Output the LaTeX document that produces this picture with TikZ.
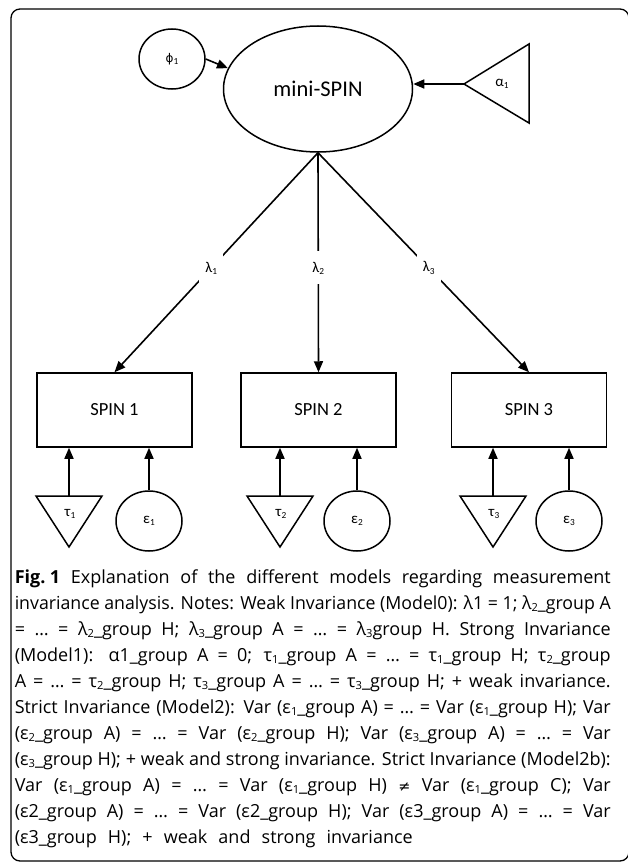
\documentclass[tikz,border=0pt]{standalone}
\usepackage{graphicx}
\usepackage{fontspec}
\setmainfont{Carlito}
\newfontfamily\capfont{Open Sans}
\newfontfamily\djv{DejaVu Sans}
\usetikzlibrary{shapes.geometric,arrows.meta}
\newcommand\sbs[1]{\raisebox{-0.3ex}{\scalebox{0.62}{#1}}}
\newlength\jw
\newcommand\jline[1]{\settowidth\jw{#1}\ifdim\jw>596pt\resizebox{596pt}{\height}{#1}\else\makebox[596pt][s]{#1}\fi}
\begin{document}
\begin{tikzpicture}[x=1pt,y=-1pt,line width=1.5pt,
  arr/.style={-{Triangle[length=11pt,width=9pt]},line width=1.6pt},
  obs/.style={draw,rectangle,minimum width=155pt,minimum height=74pt,inner sep=0pt,font=\fontsize{18.5}{20}\selectfont},
  circ/.style={draw,ellipse,minimum width=66pt,minimum height=60pt,inner sep=0pt,font=\fontsize{15}{16}\selectfont},
  glab/.style={inner sep=0pt,font=\fontsize{15}{16}\selectfont},
  lam/.style={fill=white,inner sep=0pt,minimum width=24pt,minimum height=33pt,font=\fontsize{15}{16}\selectfont},
  capline/.style={anchor=base west,inner sep=0pt,font=\capfont\fontsize{18}{26}\selectfont}]
\useasboundingbox (0,0) rectangle (627,864);
\fill[white] (0,0) rectangle (627,864);
\draw[line width=1.3pt,rounded corners=9pt] (11,9) rectangle (629,861);
% latent
\node[draw,ellipse,minimum width=189pt,minimum height=126pt,inner sep=0pt,font=\fontsize{22.5}{24}\selectfont] (ms) at (318,89) {mini-SPIN};
\node[circ] (phi) at (172,59) {{\djv\scalebox{0.8}{ϕ}}\sbs{1}};
\draw[arr] (phi.east) -- (ms.167);
\draw (464,84) -- (529,44) -- (529,123) -- cycle;
\coordinate (atip) at (464,84);
\node[glab] (alab) at (502,84) {α\sbs{1}};
\draw[arr] (atip) -- (atip -| ms.east);
% observed
\node[obs] (s1) at (114.5,410) {SPIN 1};
\node[obs] (s2) at (318.5,410) {SPIN 2};
\node[obs] (s3) at (529,410) {SPIN 3};
\draw[arr] (ms.south) -- node[lam,pos=0.525] (l1) {λ\sbs{1}} (s1.north);
\draw[arr] (ms.south) -- node[lam,pos=0.525] (l2) {λ\sbs{2}} (s2.north);
\draw[arr] (ms.south) -- node[lam,pos=0.525] (l3) {λ\sbs{3}} (s3.north);
% intercepts (triangles)
\draw (36,496) -- (102,496) -- (69,547) -- cycle;
\coordinate (t1) at (69,496);
\node[glab] (tl1) at (70,514) {τ\sbs{1}};
\draw (247,496) -- (313,496) -- (280,547) -- cycle;
\coordinate (t2) at (280,496);
\node[glab] (tl2) at (281,514) {τ\sbs{2}};
\draw (460,496) -- (526,496) -- (493,547) -- cycle;
\coordinate (t3) at (493,496);
\node[glab] (tl3) at (494,514) {τ\sbs{3}};
% residuals
\node[circ] (e1) at (149,521) {ε\sbs{1}};
\node[circ] (e2) at (357,521) {ε\sbs{2}};
\node[circ] (e3) at (569,521) {ε\sbs{3}};
\draw[arr] (t1) -- (t1 |- s1.south);
\draw[arr] (e1.north) -- (e1.north |- s1.south);
\draw[arr] (t2) -- (t2 |- s2.south);
\draw[arr] (e2.north) -- (e2.north |- s2.south);
\draw[arr] (t3) -- (t3 |- s3.south);
\draw[arr] (e3.north) -- (e3.north |- s3.south);
% caption
\node[capline] (c0) at (14,583) {\jline{\textbf{Fig.\hspace{4.5pt}1} Explanation of the different models regarding measurement}};
\node[capline] (c1) at (14,609) {\jline{invariance analysis. Notes: Weak Invariance (Model0): λ1 = 1; λ\sbs{2}\_group A}};
\node[capline] (c2) at (14,635) {\jline{= … = λ\sbs{2}\_group H; λ\sbs{3}\_group A = … = λ\sbs{3}group H. Strong Invariance}};
\node[capline] (c3) at (14,661) {\jline{(Model1): α1\_group A = 0; τ\sbs{1}\_group A = … = τ\sbs{1}\_group H; τ\sbs{2}\_group}};
\node[capline] (c4) at (14,687) {\jline{A = … = τ\sbs{2}\_group H; τ\sbs{3}\_group A = … = τ\sbs{3}\_group H; + weak invariance.}};
\node[capline] (c5) at (14,713) {\jline{Strict Invariance (Model2): Var (ε\sbs{1}\_group A) = … = Var (ε\sbs{1}\_group H); Var}};
\node[capline] (c6) at (14,739) {\jline{(ε\sbs{2}\_group A) = … = Var (ε\sbs{2}\_group H); Var (ε\sbs{3}\_group A) = … = Var}};
\node[capline] (c7) at (14,765) {\jline{(ε\sbs{3}\_group H); + weak and strong invariance. Strict Invariance (Model2b):}};
\node[capline] (c8) at (14,791) {\jline{Var (ε\sbs{1}\_group A) = … = Var (ε\sbs{1}\_group H) {\djv\scalebox{0.8}{≠}} Var (ε\sbs{1}\_group C); Var}};
\node[capline] (c9) at (14,817) {\jline{(ε2\_group A) = … = Var (ε2\_group H); Var (ε3\_group A) = … = Var}};
\node[capline] (c10) at (14,843) {\makebox[398pt][s]{(ε3\_group H); + weak and strong invariance}};
\end{tikzpicture}
\end{document}
